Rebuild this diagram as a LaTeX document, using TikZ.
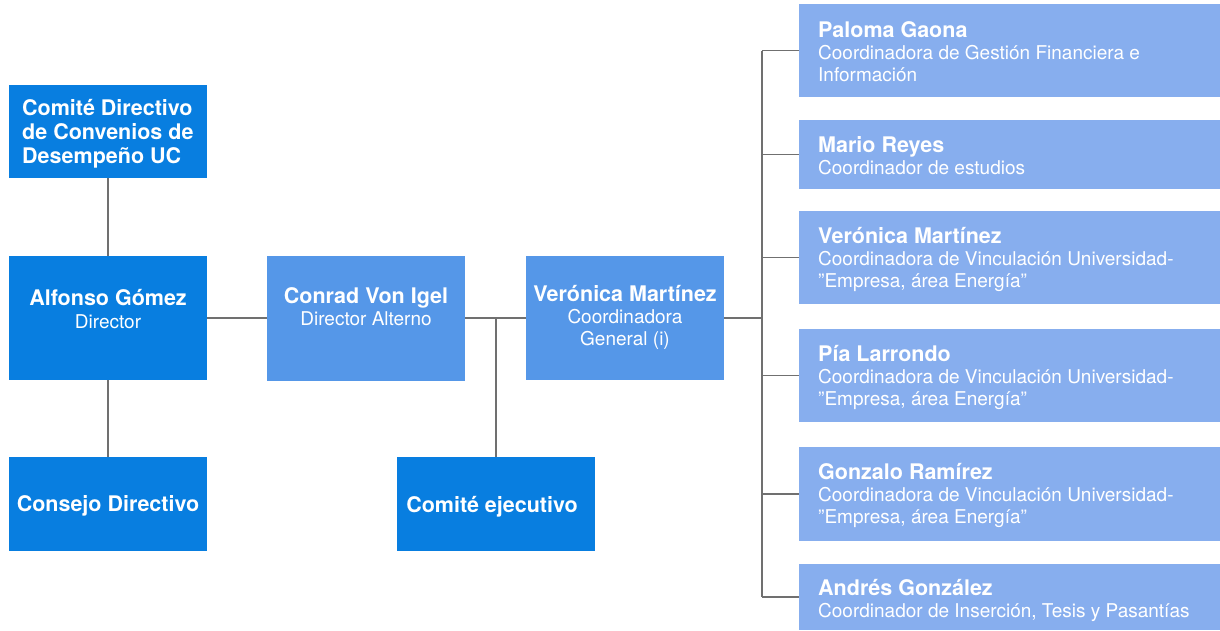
\documentclass[tikz,border=0pt]{standalone}
\usepackage{fontspec}
\setmainfont{TeX Gyre Heros}
\usepackage{tikz}
\usetikzlibrary{positioning}
\definecolor{darkblue}{HTML}{087EE0}
\definecolor{midblue}{HTML}{5597E8}
\definecolor{lightblue}{HTML}{87AEEE}
\definecolor{linegray}{HTML}{707070}
\def\namefont{\fontsize{21.5}{22}\selectfont\bfseries}
\def\rolefont{\fontsize{19}{22}\selectfont\mdseries}
% stacked lines whose baseline is the first line
\newcommand{\leftlines}[2]{\vtop{\baselineskip=#1\halign{##\hfil\cr #2\crcr}}}
\newcommand{\midlines}[2]{\vtop{\baselineskip=#1\halign{\hfil##\hfil\cr #2\crcr}}}

\begin{document}
\begin{tikzpicture}[x=1pt,y=-1pt]
    \tikzstyle{box}=[rectangle,inner sep=0pt,minimum width=198pt]
    \tikzstyle{dark box}=[box,fill=darkblue]
    \tikzstyle{mid box}=[box,fill=midblue]
    \tikzstyle{side box}=[box,fill=lightblue,minimum width=421pt]
    \tikzstyle{title}=[text=white,inner sep=0pt,font=\fontsize{21.5}{24}\selectfont\bfseries]
    \tikzstyle{boxtext}=[text=white,inner sep=0pt,font=\namefont]
    \tikzstyle{link}=[draw=linegray,line width=1.2pt]

    \useasboundingbox (0,0) rectangle (1220,630);

    % Left column
    \node[dark box,minimum height=93pt] (CD) at (108,131.5) {};
    \node[title,anchor=base west] (CD-t) at (22,115) {\leftlines{24pt}{Comité Directivo\cr de Convenios de\cr Desempeño UC}};
    \node[dark box,minimum height=124pt] (AG) at (108,318) {};
    \node[boxtext,anchor=base] (AG-t) at (108,305) {\midlines{23pt}{Alfonso Gómez\cr\rolefont Director}};
    \node[dark box,minimum height=94pt] (CONS) at (108,504) {};
    \node[boxtext,anchor=base] (CONS-t) at (108,511) {Consejo Directivo};

    % Middle
    \node[mid box,minimum height=125pt] (CVI) at (366,318) {};
    \node[boxtext,anchor=base] (CVI-t) at (366,303) {\midlines{22pt}{Conrad Von Igel\cr\rolefont Director Alterno}};
    \node[mid box,minimum height=124pt] (VM) at (625,318) {};
    \node[boxtext,anchor=base] (VM-t) at (625,301) {\midlines{22pt}{Verónica Martínez\cr\rolefont Coordinadora\cr\rolefont General (i)}};
    \node[dark box,minimum height=94pt] (CE) at (496,504) {};
    \node[boxtext,anchor=base] (CE-t) at (492,512) {Comité ejecutivo};

    \coordinate (bus) at (762,318);

    % Right column
    \foreach \id/\yc/\h/\base/\who/\jobA/\jobB in {
        1/50.5/93/37/Paloma Gaona/Coordinadora de Gestión Financiera e/Información,
        2/154.5/69/152/Mario Reyes/Coordinador de estudios/{},
        3/257.5/93/243/Verónica Martínez/Coordinadora de Vinculación Universidad-/{”Empresa, área Energía”},
        4/375.5/93/361/Pía Larrondo/Coordinadora de Vinculación Universidad-/{”Empresa, área Energía”},
        5/494/94/479/Gonzalo Ramírez/Coordinadora de Vinculación Universidad-/{”Empresa, área Energía”},
        6/597/66/595/Andrés González/{Coordinador de Inserción, Tesis y Pasantías}/{}}
    {
        \node[side box,minimum height=\h pt] (R-\id) at (1009.5,\yc) {};
        \node[boxtext,anchor=base west] (R-\id-t) at (818,\base) {\leftlines{22pt}{\who\cr\rolefont\jobA\cr\rolefont\jobB}};
        \draw[link] (R-\id.west -| bus) -- (R-\id.west);
    }

    % Connectors
    \draw[link] (CD.south) -- (AG.north);
    \draw[link] (AG.south) -- (CONS.north);
    \draw[link] (AG.east) -- (CVI.west);
    \draw[link] (CVI.east) -- (VM.west);
    \draw[link] (CE.north) -- (CE.north |- CVI.east);
    \draw[link] (VM.east) -- (bus);
    \draw[link] (R-1.west -| bus) -- (R-6.west -| bus);
\end{tikzpicture}
\end{document}
